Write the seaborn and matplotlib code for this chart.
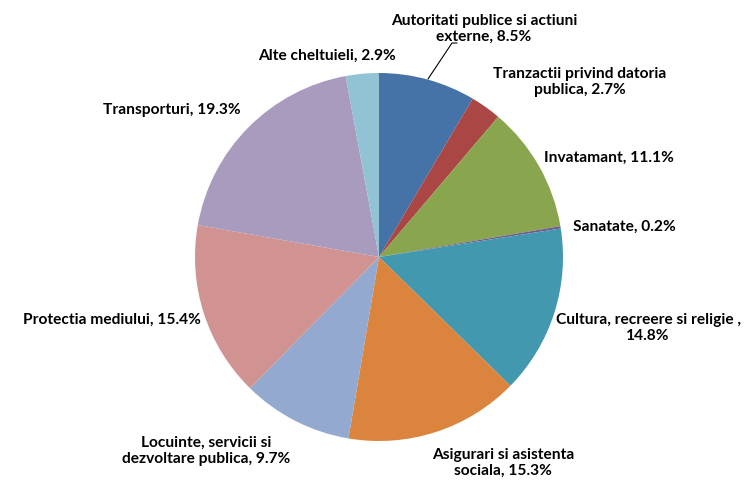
import matplotlib
matplotlib.use("Agg")
import matplotlib.pyplot as plt
import seaborn as sns

# date
categorii = [
    "Autoritati publice si actiuni\nexterne",
    "Tranzactii privind datoria\npublica",
    "Invatamant",
    "Sanatate",
    "Cultura, recreere si religie ,\n",
    "Asigurari si asistenta\nsociala",
    "Locuinte, servicii si\ndezvoltare publica",
    "Protectia mediului",
    "Transporturi",
    "Alte cheltuieli",
]
procente = [8.5, 2.7, 11.1, 0.2, 14.8, 15.3, 9.7, 15.4, 19.3, 2.9]

culori = sns.color_palette([
    "#4572A7", "#AA4643", "#89A54E", "#71588F", "#4198AF",
    "#DB843D", "#93A9CF", "#D19392", "#A99BBD", "#92C3D5",
])

# pozitia etichetelor (pixeli, centrul textului)
etichete_px = [
    (484, 29), (580, 82), (609, 158), (624, 227), (648, 328),
    (503, 463), (206, 451), (112, 320), (172, 110), (327, 56),
]

sns.set_theme(style="white")
plt.rcParams["font.family"] = ["Lato", "DejaVu Sans"]

W, H = 747, 480
cx, cy, R = 379, 257, 184

fig = plt.figure(figsize=(W / 100, H / 100), dpi=100)
ax = fig.add_axes([0, 0, 1, 1])

ax.pie(procente, colors=culori, startangle=90, counterclock=False,
       radius=1.0, center=(0, 0), wedgeprops=dict(linewidth=0))

def px2d(x, y):
    return (x - cx) / R, (cy - y) / R

for nume, val, (px, py) in zip(categorii, procente, etichete_px):
    if nume.endswith("\n"):
        text = f"{nume}{val}%"
    else:
        text = f"{nume}, {val}%"
    x, y = px2d(px, py)
    ax.text(x, y, text, ha="center", va="center", fontsize=11.2,
            fontweight="bold", color="black", linespacing=1.15)

# linie de legatura pentru prima eticheta
lx, ly = zip(px2d(428, 79), px2d(452, 43), px2d(457, 43))
ax.plot(lx, ly, color="black", linewidth=0.8)

ax.set_xlim((0 - cx) / R, (W - cx) / R)
ax.set_ylim((cy - H) / R, cy / R)
ax.set_aspect("equal")
ax.axis("off")

fig.savefig("out.png", dpi=100, facecolor="white")
